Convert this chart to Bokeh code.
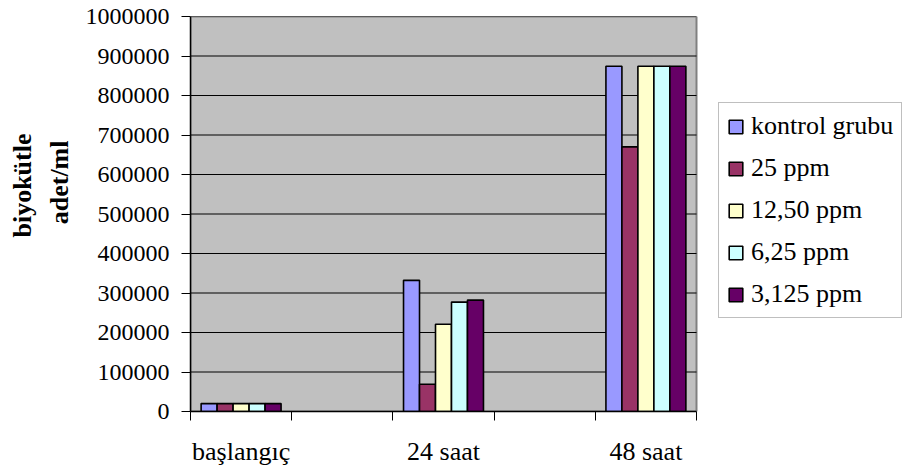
from bokeh.plotting import figure
from bokeh.models import (FixedTicker, NumeralTickFormatter, Legend, LegendItem,
                          Title, Range1d, ColumnDataSource)
from bokeh.embed import file_html
from bokeh.resources import INLINE

# Sampling times and biomass (cells/ml) for each treatment
categories = ["başlangıç", "24 saat", "48 saat"]
series_names = ["kontrol grubu", "25 ppm", "12,50 ppm", "6,25 ppm", "3,125 ppm"]
kontrol = [20000, 332000, 874000]
ppm_25 = [20000, 69000, 670000]
ppm_12_50 = [20000, 221000, 874000]
ppm_6_25 = [20000, 277000, 874000]
ppm_3_125 = [20000, 282000, 874000]
series_values = [kontrol, ppm_25, ppm_12_50, ppm_6_25, ppm_3_125]
colors = ["#9999FF", "#993366", "#FFFFCC", "#CCFFFF", "#660066"]
y_ticks = list(range(0, 1000001, 100000))
y_title_lines = ["biyokütle", "adet/ml"]

FONT = "Liberation Serif"

# Each time point occupies every other slot of a 5-slot category axis
n_slots = 2 * len(categories) - 1
centers = [2 * i + 0.5 for i in range(len(categories))]
group_width = 0.79
bar_w = group_width / len(series_names)

# The frame runs to the right edge so the legend can sit beside the plot area;
# the plot area itself covers x in [0, n_slots].
W, H = 902, 468
left_px, area_px = 190, 506
x_end = n_slots * (W - left_px) / area_px
y_max = 1000000

p = figure(width=W, height=H, output_backend="svg", toolbar_location=None,
           x_range=Range1d(0, x_end), y_range=Range1d(0, y_max),
           min_border_left=left_px, min_border_right=0,
           min_border_top=16, min_border_bottom=57)
p.border_fill_color = "white"
p.background_fill_color = "white"
p.outline_line_color = None

# Grey plot area with its thin grey frame
p.quad(left=0, right=n_slots, bottom=0, top=y_max,
       fill_color="#C0C0C0", line_color="#808080", line_width=2)

# Horizontal grid lines across the plot area only
grid_y = y_ticks[1:]
p.segment(x0=[0] * len(grid_y), x1=[n_slots] * len(grid_y), y0=grid_y, y1=grid_y,
          line_color="black", line_width=1)

items = []
for k, (name, vals, col) in enumerate(zip(series_names, series_values, colors)):
    offset = (k - (len(series_names) - 1) / 2) * bar_w
    src = ColumnDataSource(dict(x=[c + offset for c in centers], top=vals))
    r = p.vbar(x="x", top="top", width=bar_w, bottom=0, source=src,
               fill_color=col, line_color="black", line_width=1.6)
    items.append(LegendItem(label=name, renderers=[r]))

p.xgrid.grid_line_color = None
p.ygrid.grid_line_color = None

# Y axis
p.yaxis.ticker = FixedTicker(ticks=y_ticks)
p.yaxis.formatter = NumeralTickFormatter(format="0")
p.yaxis.major_label_text_font = FONT
p.yaxis.major_label_text_font_size = "24px"
p.yaxis.major_label_text_color = "black"
p.yaxis.major_tick_out = 9
p.yaxis.major_tick_in = 0
p.yaxis.minor_tick_line_color = None
p.yaxis.axis_line_color = "black"
p.yaxis.axis_line_width = 1.5
p.yaxis.major_tick_line_color = "black"
p.yaxis.major_label_standoff = 12

# X axis: labels at the group centres, tick marks between slots
p.xaxis.bounds = (0, n_slots)
p.xaxis.ticker = FixedTicker(ticks=centers, minor_ticks=list(range(n_slots + 1)))
p.xaxis.major_label_overrides = {c: lab for c, lab in zip(centers, categories)}
p.xaxis.major_label_text_font = FONT
p.xaxis.major_label_text_font_size = "26px"
p.xaxis.major_label_text_color = "black"
p.xaxis.major_tick_out = 0
p.xaxis.major_tick_in = 0
p.xaxis.minor_tick_out = 9
p.xaxis.minor_tick_in = 0
p.xaxis.minor_tick_line_color = "black"
p.xaxis.axis_line_color = "black"
p.xaxis.axis_line_width = 1.5
p.xaxis.major_label_standoff = 16

# Y-axis title, one panel per line (inner line first)
for txt, off, stand in ((y_title_lines[1], 124, 15), (y_title_lines[0], 117, -3)):
    p.add_layout(Title(text=txt, align="right", vertical_align="middle",
                       offset=off, standoff=stand,
                       text_font=FONT, text_font_style="bold",
                       text_font_size="26px", text_color="black"), "left")

legend = Legend(items=items, location=(528, 93),
                label_text_font=FONT, label_text_font_size="26px",
                label_text_color="black",
                glyph_width=17, glyph_height=17, spacing=12,
                padding=8, margin=0, label_standoff=7,
                border_line_color="#808080", border_line_width=1,
                background_fill_color="white", background_fill_alpha=1)
p.add_layout(legend, "center")

open("out.html", "w").write(file_html(p, INLINE))
